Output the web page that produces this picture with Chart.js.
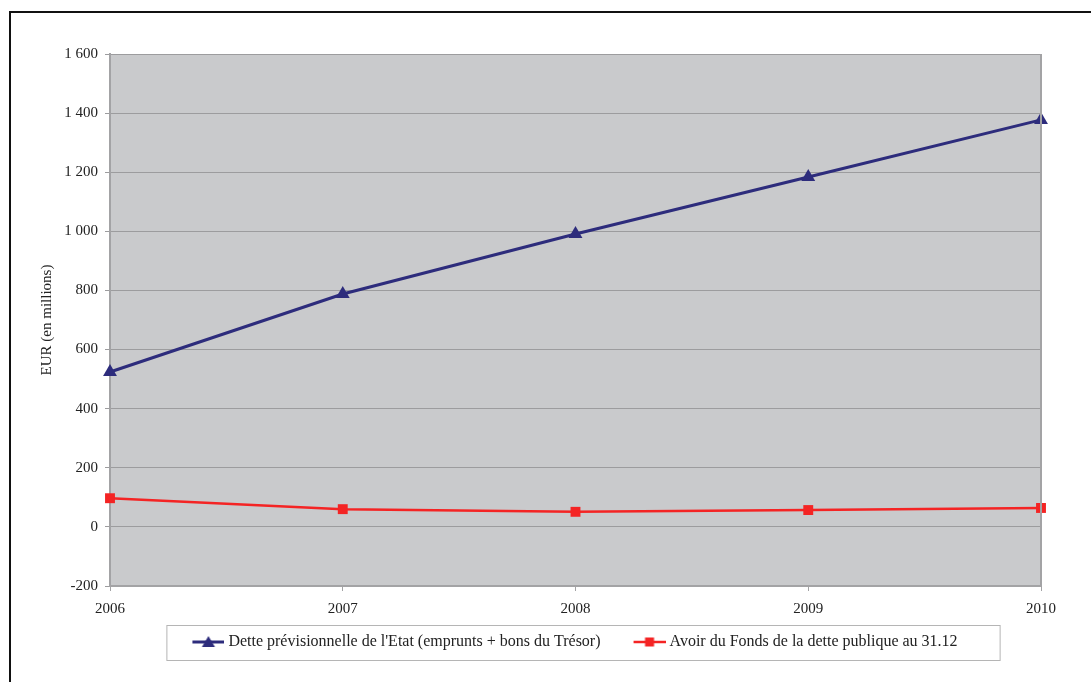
<!DOCTYPE html>
<html>
<head>
<meta charset="utf-8">
<script src="https://cdn.jsdelivr.net/npm/chart.js@4.4.1/dist/chart.umd.min.js"></script>
<style>
  html, body { margin: 0; padding: 0; background: #fff; }
  #wrap { position: relative; width: 1091px; height: 682px; overflow: hidden; }
  #frame { position: absolute; left: 9px; top: 11px; width: 1200px; height: 800px; border-top: 2px solid #111; border-left: 2px solid #111; }
  canvas { position: absolute; left: 0; top: 0; }
</style>
</head>
<body>
<div id="wrap">
  <div id="frame"></div>
  <canvas id="c" width="1091" height="682"></canvas>
</div>
<script>
const years = ['2006', '2007', '2008', '2009', '2010'];
const detteEtat = [524, 788, 991, 1184, 1377];
const avoirFonds = [97, 60, 51, 57, 64];
const seriesNames = [
  "Dette prévisionnelle de l'Etat (emprunts + bons du Trésor)",
  "Avoir du Fonds de la dette publique au 31.12"
];
const yMin = -200, yMax = 1600, yStep = 200;

const BLUE = '#2d2c7c';
const RED = '#f42424';
const FONT = "'Liberation Serif', 'DejaVu Serif', serif";
const LEGEND_SHIFT = -12;

function legendIcon(color, shape) {
  const cv = document.createElement('canvas');
  cv.width = 59; cv.height = 14;
  const g = cv.getContext('2d');
  g.strokeStyle = color; g.fillStyle = color;
  g.lineWidth = shape === 'tri' ? 3 : 2.5;
  g.beginPath(); g.moveTo(27, 7); g.lineTo(59, 7); g.stroke();
  if (shape === 'tri') {
    g.beginPath(); g.moveTo(43, 1); g.lineTo(49.5, 12); g.lineTo(36.5, 12); g.closePath(); g.fill();
  } else {
    g.fillRect(38.5, 2.5, 9, 9);
  }
  return cv;
}
const icons = [legendIcon(BLUE, 'tri'), legendIcon(RED, 'sq')];

const plotBg = {
  id: 'plotBg',
  afterUpdate(chart) {
    const lg = chart.legend;
    if (lg) {
      lg.left += LEGEND_SHIFT; lg.right += LEGEND_SHIFT;
      (lg.legendHitBoxes || []).forEach(h => { h.left += LEGEND_SHIFT; });
    }
  },
  beforeDraw(chart) {
    const {ctx, chartArea: a} = chart;
    ctx.save();
    ctx.fillStyle = '#c9cacc';
    ctx.fillRect(a.left, a.top, a.right - a.left, a.bottom - a.top);
    ctx.restore();
  },
  afterDraw(chart) {
    const {ctx, chartArea: a} = chart;
    ctx.save();
    ctx.strokeStyle = '#a3a3a5';
    ctx.lineWidth = 2;
    ctx.beginPath(); ctx.moveTo(a.right, a.top); ctx.lineTo(a.right, a.bottom); ctx.stroke();
    const lg = chart.legend;
    if (lg && lg.legendHitBoxes && lg.legendHitBoxes.length) {
      const hb = lg.legendHitBoxes;
      const l = Math.min(...hb.map(h => h.left)) - 3;
      const r = Math.max(...hb.map(h => h.left + h.width)) + 42;
      const t = hb[0].top - 9;
      const b = hb[0].top + hb[0].height + 10;
      ctx.strokeStyle = '#b5b5b5';
      ctx.lineWidth = 1;
      ctx.strokeRect(l + 0.5, t + 0.5, r - l, b - t);
    }
    ctx.restore();
  }
};

new Chart(document.getElementById('c'), {
  type: 'line',
  data: {
    labels: years,
    datasets: [
      {
        label: seriesNames[0],
        data: detteEtat,
        borderColor: BLUE, backgroundColor: BLUE,
        borderWidth: 3, pointStyle: 'triangle', pointRadius: 8,
        pointBorderWidth: 0, tension: 0, clip: false
      },
      {
        label: seriesNames[1],
        data: avoirFonds,
        borderColor: RED, backgroundColor: RED,
        borderWidth: 2.5, pointStyle: 'rect', pointRadius: 7,
        pointBorderWidth: 0, tension: 0, clip: false
      }
    ]
  },
  options: {
    responsive: false,
    animation: false,
    layout: { padding: { left: 0, top: 54, right: 50, bottom: 22 } },
    scales: {
      x: {
        type: 'category',
        offset: false,
        afterFit(s) { s.height = 38; },
        border: { display: true, color: '#a3a3a5', width: 2 },
        grid: { drawOnChartArea: false, drawTicks: true, tickLength: 5, color: '#a3a3a5' },
        ticks: { padding: 9, color: '#222', font: { family: FONT, size: 15 }, maxRotation: 0, autoSkip: false }
      },
      y: {
        min: yMin, max: yMax,
        afterFit(s) { s.width = 110; },
        border: { display: true, color: '#a3a3a5', width: 2 },
        grid: { color: '#9c9c9e', lineWidth: 1, tickLength: 5, drawTicks: true },
        ticks: {
          stepSize: yStep, padding: 7, color: '#222',
          font: { family: FONT, size: 15 },
          callback: v => {
            const s = Math.abs(v).toString().replace(/\B(?=(\d{3})+(?!\d))/g, ' ');
            return (v < 0 ? '-' : '') + s;
          }
        },
        title: {
          display: true, text: 'EUR (en millions)', color: '#222',
          font: { family: FONT, size: 15 }, padding: { top: 38, bottom: 0 }
        }
      }
    },
    plugins: {
      tooltip: { enabled: false },
      legend: {
        position: 'bottom',
        fullSize: false,
        labels: {
          usePointStyle: true,
          pointStyleWidth: 51,
          padding: 10,
          color: '#222',
          font: { family: FONT, size: 16 },
          generateLabels(chart) {
            const items = Chart.defaults.plugins.legend.labels.generateLabels(chart);
            items.forEach((it, i) => { it.pointStyle = icons[i]; });
            return items;
          }
        }
      }
    }
  },
  plugins: [plotBg]
});
</script>
</body>
</html>
